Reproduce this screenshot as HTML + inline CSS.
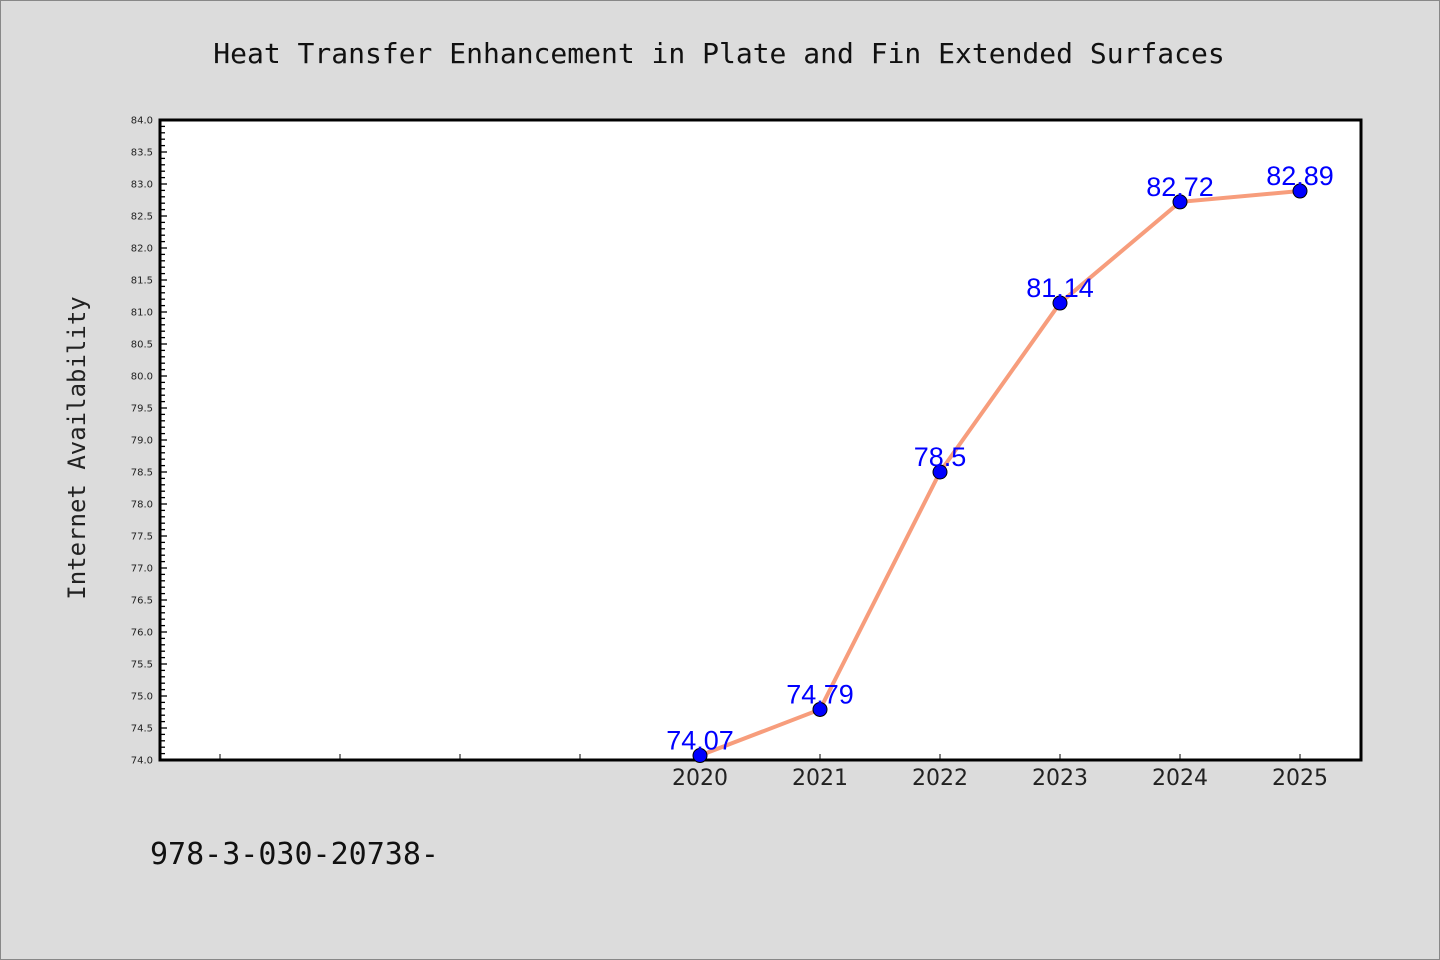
<!DOCTYPE html>
<html><head><meta charset="utf-8"><style>
body{margin:0;background:#dcdcdc;}
svg{display:block;font-family:"DejaVu Sans","Liberation Sans",sans-serif;}
</style></head><body>
<svg id="c" width="1440" height="960">
<rect x="0.5" y="0.5" width="1439" height="959" fill="#dcdcdc" stroke="#888"/>
<text x="719" y="63" text-anchor="middle" font-family="DejaVu Sans Mono, Liberation Mono, monospace" font-size="28" fill="#111">Heat Transfer Enhancement in Plate and Fin Extended Surfaces</text>
<text transform="translate(85,448) rotate(-90)" text-anchor="middle" font-family="DejaVu Sans Mono, Liberation Mono, monospace" font-size="24" fill="#222">Internet Availability</text>
<text x="150" y="864" font-family="DejaVu Sans Mono, Liberation Mono, monospace" font-size="30" fill="#111">978-3-030-20738-</text>
<rect x="160" y="120" width="1201" height="640" fill="#fff" stroke="#000" stroke-width="3"/>
<g id="g"></g>
</svg>
<script>
const years=[2020,2021,2022,2023,2024,2025];
const values=[74.07,74.79,78.5,81.14,82.72,82.89];
const labels=["74.07","74.79","78.5","81.14","82.72","82.89"];
const emptyTicks=[2016,2017,2018,2019];
const yMin=74,yMax=84;
const X=y=>700+(y-2020)*120;
const Y=v=>760-(v-yMin)/(yMax-yMin)*640;
const NS="http://www.w3.org/2000/svg",g=document.getElementById('g');
function mk(t,a){const e=document.createElementNS(NS,t);for(const k in a)e.setAttribute(k,a[k]);g.appendChild(e);return e;}
for(let i=0;i<=100;i++){const v=yMin+i*0.1,major=i%5===0;
 const l=mk('line',{x1:160,x2:major?167:163+0,y1:Y(v),y2:Y(v),stroke:'#000','stroke-width':1.3});
 if(!major)l.setAttribute('x2',165);
 
 
 if(major){const t=mk('text',{x:153,y:Y(v)+3.5,'text-anchor':'end','font-size':10,fill:'#222'});t.textContent=v.toFixed(1);
 
 }}
emptyTicks.concat(years).forEach(y=>{const l=mk('line',{x1:X(y),x2:X(y),y1:760,y2:754,stroke:'#000','stroke-width':1});
 
 });
years.forEach(y=>{const t=mk('text',{x:X(y),y:785,'text-anchor':'middle','font-size':22,fill:'#222'});t.textContent=y;
 
 });
const p=mk('polyline',{points:years.map((y,i)=>X(y)+','+Y(values[i])).join(' '),fill:'none',stroke:'#f79d7c','stroke-width':4});


years.forEach((y,i)=>{const c=mk('circle',{cx:X(y),cy:Y(values[i]),r:7,fill:'#0000ff',stroke:'#000','stroke-width':1});
 
 
 const t=mk('text',{x:X(y),y:Y(values[i])-6,'text-anchor':'middle','font-family':'Liberation Sans, sans-serif','font-size':27,fill:'#0000ff'});t.textContent=labels[i];
 
 });
</script>
</body></html>
